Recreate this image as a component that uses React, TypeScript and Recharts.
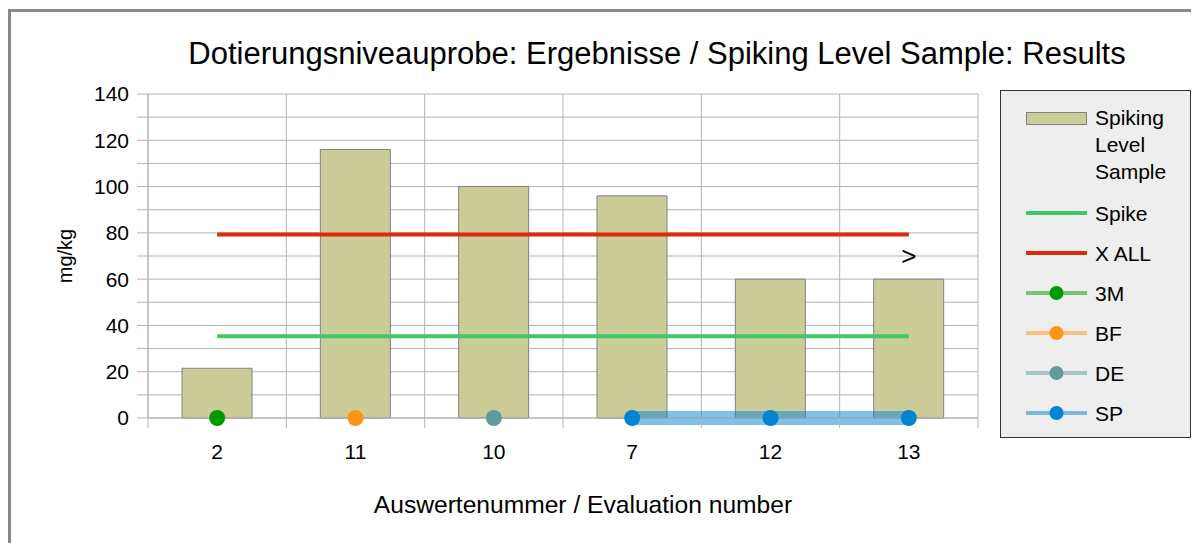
import { Bar, CartesianGrid, ComposedChart, Line, ReferenceDot, ReferenceLine, XAxis, YAxis } from "recharts";

const categories = ["2", "11", "10", "7", "12", "13"];
const sampleValues = [21.5, 116, 100, 96, 60, 60];
const spikeValues = [35.3, 35.3, 35.3, 35.3, 35.3, 35.3];
const xAllValues = [79.3, 79.3, 79.3, 79.3, 79.3, 79.3];
const m3Values = [0, null, null, null, null, null];
const bfValues = [null, 0, null, null, null, null];
const deValues = [null, null, 0, null, null, null];
const spValues = [null, null, null, 0, 0, 0];
const yTicks = [0, 10, 20, 30, 40, 50, 60, 70, 80, 90, 100, 110, 120, 130, 140];
const bandEdges = [0, 1, 2, 3, 4, 5, 6];
const xTicks = [0, 0.5, 1, 1.5, 2, 2.5, 3, 3.5, 4, 4.5, 5, 5.5, 6];
const overflowMark = { category: "13", value: 70, text: ">" };

const FONT = '"Liberation Sans", Arial, sans-serif';
const GRID = "#b3b3b3";
const C = {
  sample: "#cccc99",
  spike: "#3ec86a",
  xall: "#dd2a0c",
  m3: "#009a00",
  bf: "#ff9412",
  de: "#5f9b9b",
  sp: "#0084d1",
};

const data = categories.map((name, i) => ({
  name,
  slot: i + 0.5,
  sample: sampleValues[i],
  spike: spikeValues[i],
  xall: xAllValues[i],
  m3: m3Values[i],
  bf: bfValues[i],
  de: deValues[i],
  sp: spValues[i],
}));

const legendItems = [
  { key: "sample", label: ["Spiking", "Level", "Sample"], kind: "bar" },
  { key: "spike", label: ["Spike"], kind: "line" },
  { key: "xall", label: ["X ALL"], kind: "line" },
  { key: "m3", label: ["3M"], kind: "marker" },
  { key: "bf", label: ["BF"], kind: "marker" },
  { key: "de", label: ["DE"], kind: "marker" },
  { key: "sp", label: ["SP"], kind: "marker" },
];

function XTick(props: any) {
  const { x, y, payload } = props;
  const v = payload.value as number;
  if (Number.isInteger(v)) {
    return <line x1={x} x2={x} y1={y} y2={y + 10} stroke={GRID} strokeWidth={1} />;
  }
  return (
    <text x={x} y={y + 41} textAnchor="middle" fontSize={21} fill="#000" fontFamily={FONT}>
      {categories[Math.floor(v)]}
    </text>
  );
}

function Swatch({ kind, color }: { kind: string; color: string }) {
  return (
    <svg width={61} height={20} style={{ flex: "none", display: "block" }}>
      {kind === "bar" && <rect x={0.5} y={4.5} width={60} height={12} fill={color} stroke="#808080" />}
      {kind === "line" && <line x1={0} x2={61} y1={10} y2={10} stroke={color} strokeWidth={4} />}
      {kind === "marker" && (
        <>
          <line x1={0} x2={61} y1={10} y2={10} stroke={color} strokeWidth={4} strokeOpacity={0.5} />
          <circle cx={30.5} cy={10} r={7} fill={color} />
        </>
      )}
    </svg>
  );
}

function LegendBox() {
  return (
    <div
      style={{
        position: "absolute",
        left: 992,
        top: 82,
        width: 191,
        height: 348,
        boxSizing: "border-box",
        background: "#eeeeee",
        border: "1px solid #333",
        paddingTop: 13,
        fontFamily: FONT,
        fontSize: 21,
        color: "#000",
      }}
    >
      {legendItems.map((it, idx) => (
        <div
          key={it.key}
          style={{
            display: "flex",
            alignItems: idx === 0 ? "flex-start" : "center",
            height: idx === 0 ? 81 : 40,
            marginTop: idx === 1 ? 8 : 0,
            paddingLeft: 25,
          }}
        >
          <div style={{ paddingTop: idx === 0 ? 4 : 0 }}>
            <Swatch kind={it.kind} color={(C as any)[it.key]} />
          </div>
          <div style={{ marginLeft: 8, lineHeight: "27px" }}>
            {it.label.map((l) => (
              <div key={l}>{l}</div>
            ))}
          </div>
        </div>
      ))}
    </div>
  );
}

function dotFor(color: string) {
  return { r: 8, fill: color, stroke: color, strokeWidth: 0 };
}

export default function App() {
  return (
    <div style={{ position: "relative", width: 1191, height: 535, fontFamily: FONT, overflow: "hidden" }}>
      <div
        style={{
          position: "absolute",
          left: 0,
          top: 1,
          width: 1300,
          height: 600,
          borderLeft: "3px solid #898989",
          borderTop: "3px solid #898989",
        }}
      />
      <div
        style={{
          position: "absolute",
          left: 149,
          top: 30,
          width: 1000,
          textAlign: "center",
          fontSize: 31,
          lineHeight: "31px",
          whiteSpace: "nowrap",
        }}
      >
        Dotierungsniveauprobe: Ergebnisse / Spiking Level Sample: Results
      </div>
      <div
        style={{
          position: "absolute",
          left: 75,
          top: 485,
          width: 1000,
          textAlign: "center",
          fontSize: 24.6,
          lineHeight: "24px",
          whiteSpace: "nowrap",
        }}
      >
        Auswertenummer / Evaluation number
      </div>
      <div style={{ position: "absolute", left: 0, top: 0 }}>
        <ComposedChart
          width={1191}
          height={535}
          data={data}
          margin={{ top: 86, right: 221, bottom: 65, left: 50 }}
          style={{ fontFamily: FONT }}
        >
          <CartesianGrid vertical={false} stroke={GRID} />
          <XAxis xAxisId="cat" dataKey="name" hide />
          <XAxis
            type="number"
            dataKey="slot"
            domain={[0, 6]}
            allowDataOverflow
            ticks={xTicks}
            interval={0}
            allowDecimals
            tickLine={false}
            tickSize={0}
            tickMargin={0}
            axisLine={{ stroke: GRID }}
            tick={<XTick />}
            height={60}
          />
          <YAxis
            domain={[0, 140]}
            ticks={yTicks}
            interval={0}
            width={90}
            tickSize={11}
            tickMargin={8}
            tickLine={{ stroke: GRID }}
            axisLine={{ stroke: GRID }}
            tick={{ fill: "#000", fontSize: 21 }}
            tickFormatter={(v: number) => (v % 20 === 0 ? String(v) : "")}
            label={{
              content: (p: any) => {
                const vb = p.viewBox;
                const cx = vb.x + 7;
                const cy = vb.y + vb.height / 2;
                return (
                  <text
                    x={cx}
                    y={cy}
                    transform={`rotate(-90 ${cx} ${cy})`}
                    textAnchor="middle"
                    dominantBaseline="central"
                    fontSize={20}
                    fill="#000"
                  >
                    mg/kg
                  </text>
                );
              },
            }}
          />
          {bandEdges.map((e) => (
            <ReferenceLine key={e} x={e} stroke={GRID} strokeWidth={1} />
          ))}
          <Bar
            xAxisId="cat"
            dataKey="sample"
            fill={C.sample}
            stroke="#808080"
            strokeWidth={1}
            barSize={70}
            isAnimationActive={false}
          />
          <Line xAxisId="cat" dataKey="spike" stroke={C.spike} strokeWidth={4} dot={false} isAnimationActive={false} />
          <Line xAxisId="cat" dataKey="xall" stroke={C.xall} strokeWidth={4} dot={false} isAnimationActive={false} />
          <Line
            xAxisId="cat"
            dataKey="sp"
            stroke={C.sp}
            strokeOpacity={0.5}
            strokeWidth={14}
            dot={dotFor(C.sp)}
            isAnimationActive={false}
          />
          <Line xAxisId="cat" dataKey="m3" stroke={C.m3} strokeOpacity={0.5} strokeWidth={4} dot={dotFor(C.m3)} isAnimationActive={false} />
          <Line xAxisId="cat" dataKey="bf" stroke={C.bf} strokeOpacity={0.5} strokeWidth={4} dot={dotFor(C.bf)} isAnimationActive={false} />
          <Line xAxisId="cat" dataKey="de" stroke={C.de} strokeOpacity={0.5} strokeWidth={4} dot={dotFor(C.de)} isAnimationActive={false} />
          <ReferenceDot
            xAxisId="cat"
            x={overflowMark.category}
            y={overflowMark.value}
            r={0}
            stroke="none"
            label={{ value: overflowMark.text, position: "center", fontSize: 26, fill: "#000" }}
          />
        </ComposedChart>
      </div>
      <LegendBox />
    </div>
  );
}
